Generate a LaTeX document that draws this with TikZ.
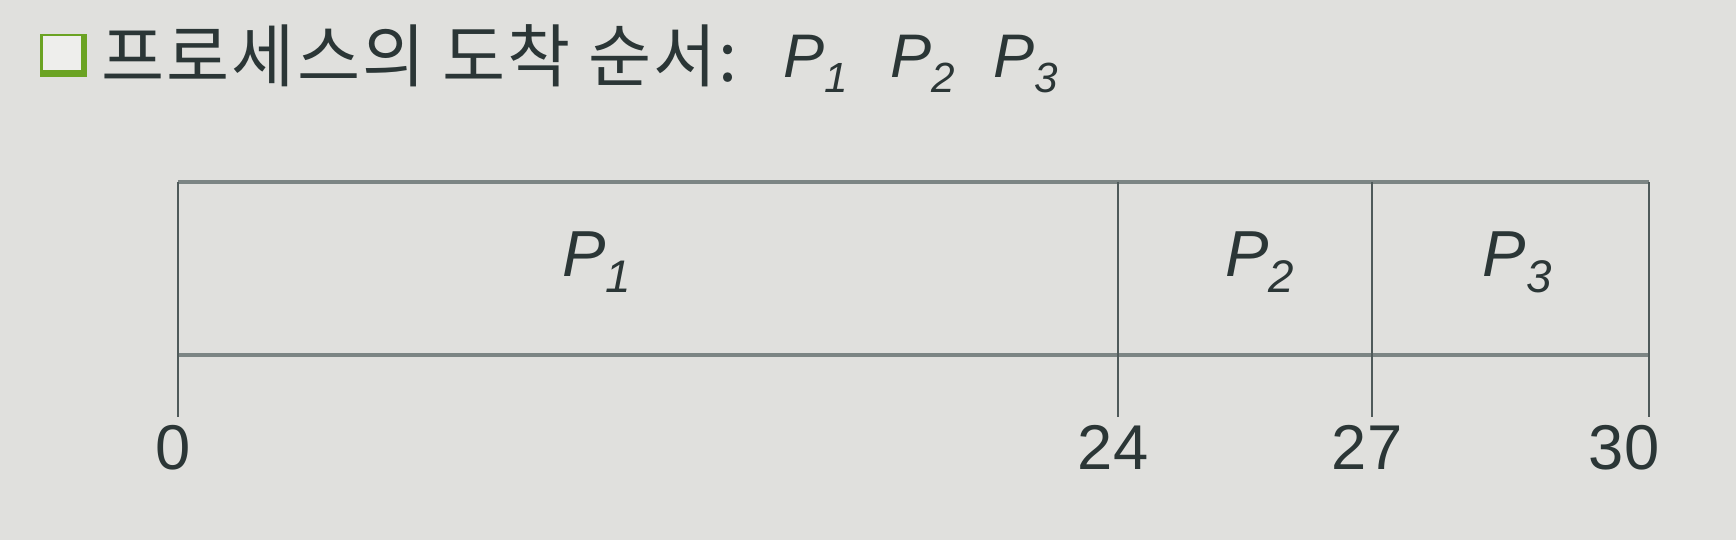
\documentclass[tikz,border=0pt]{standalone}
\usepackage{fontspec}
\setmainfont{Liberation Sans}
\newfontfamily\krfont[LetterSpace=3]{Noto Sans CJK KR}
\usetikzlibrary{positioning}

\definecolor{slidebg}{HTML}{E0E0DD}
\definecolor{inkgray}{HTML}{2B3636}
\definecolor{rulegray}{HTML}{7C8584}
\definecolor{tickgray}{HTML}{4F5A5A}
\definecolor{boxgreen}{HTML}{6BA323}

% P with a lowered italic index
\newcommand{\procname}[3]{\textit{P}\raisebox{-#3}{\fontsize{#2}{#2}\selectfont\textit{#1}}}

\begin{document}
\begin{tikzpicture}[x=0.01cm,y=-0.01cm,
    lane/.style={rulegray,line width=1.2pt},
    tick/.style={tickgray,line width=0.6pt},
    timelabel/.style={inkgray,inner sep=0pt,anchor=north,font=\fontsize{18}{18}\selectfont},
    cell/.style={inkgray,inner sep=0pt,anchor=base,font=\fontsize{18.5}{18.5}\selectfont},
    order/.style={inkgray,inner sep=0pt,anchor=base west,font=\fontsize{17.5}{17.5}\selectfont}]
        \fill[slidebg] (0,0) rectangle (1736,540);
        \useasboundingbox (0,0) rectangle (1736,540);
        % title
        \fill[boxgreen] (40,34) rectangle (87,77);
        \fill[slidebg!55!white] (43,36) rectangle (81,70);
        \node[order,font=\krfont\fontsize{19.5}{19.5}\selectfont] (title) at (101,82) {프로세스의 도착 순서:};
        \node[order] (order1) at (783,78) {\procname{1}{12}{4pt}};
        \node[order] (order2) at (890,78) {\procname{2}{12}{4pt}};
        \node[order] (order3) at (993,78) {\procname{3}{12}{4pt}};
        % time axis
        \foreach \t/\x in {0/178,24/1118,27/1372,30/1649} {
            \coordinate (top\t) at (\x,182);
            \coordinate (bot\t) at (\x,355);
            \coordinate (end\t) at (\x,417);
        }
        \draw[lane] (top0) -- (top30);
        \draw[lane] (bot0) -- (bot30);
        \foreach \t in {0,24,27,30}
            \draw[tick] (top\t) -- (end\t);
        \node[timelabel] (time0) at (173,425) {0};
        \node[timelabel] (time24) at (1113,425) {24};
        \node[timelabel] (time27) at (1367,425) {27};
        \node[timelabel] (time30) at (1624,425) {30};
        % cells
        \node[cell] (p1) at (597,277) {\procname{1}{13}{4.3pt}};
        \node[cell] (p2) at (1260,277) {\procname{2}{13}{4.3pt}};
        \node[cell] (p3) at (1517,277) {\procname{3}{13}{4.3pt}};
    \end{tikzpicture}
\end{document}
